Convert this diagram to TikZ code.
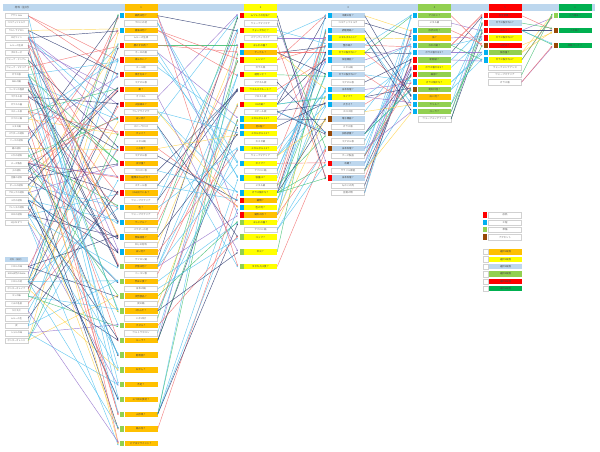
\documentclass[tikz,border=0pt]{standalone}
\usepackage{fontspec}
\newfontfamily\jp{Noto Sans CJK JP}
\usetikzlibrary{arrows.meta}
\definecolor{cOr}{HTML}{FFC000}
\definecolor{cYe}{HTML}{FFFF00}
\definecolor{cLB}{HTML}{BDD7EE}
\definecolor{cGr}{HTML}{92D050}
\definecolor{cRd}{HTML}{FF0000}
\definecolor{cDG}{HTML}{00B050}
\definecolor{mRd}{HTML}{FF0000}
\definecolor{mBl}{HTML}{00B0F0}
\definecolor{mGr}{HTML}{92D050}
\definecolor{mBr}{HTML}{974706}
\definecolor{lBl}{HTML}{4FC1F0}
\definecolor{lRd}{HTML}{F26D6D}
\definecolor{lGr}{HTML}{3DBE6E}
\definecolor{lYe}{HTML}{FFD54A}
\definecolor{lPu}{HTML}{9270CC}
\definecolor{lNv}{HTML}{2B3870}
\tikzset{
  qb/.style={draw=none, inner sep=0, minimum width=33, minimum height=5.4, font=\jp\fontsize{2.4}{2.6}\selectfont, text=black!75},
  wb/.style={qb, draw=black!18, line width=0.25pt, fill=white, text=black!60},
  zb/.style={wb, minimum width=23, font=\jp\fontsize{2.2}{2.4}\selectfont},
  mk/.style={inner sep=0, minimum width=4, minimum height=5.4, draw=none},
  hb/.style={inner sep=0, minimum width=33, minimum height=6.6, draw=none, font=\jp\fontsize{2.6}{2.8}\selectfont, text=black!70},
  conn/.style={line width=0.45pt, -{Triangle[length=1.6pt,width=1.4pt]}, opacity=0.85},
}
\newcommand\qnode[7]{%
  \pgfmathsetmacro\yy{15.7+7.38*#2}%
  \node[mk,fill=#4] (m#1r#2) at (#5,\yy) {};%
  \node[qb,fill=#3] (c#1r#2) at (#6,\yy) {#7};}
\newcommand\wnode[4]{%
  \pgfmathsetmacro\yy{15.7+7.38*#2}%
  \node[wb] (c#1r#2) at (#3,\yy) {#4};}
\begin{document}
\begin{tikzpicture}[x=1pt,y=-1pt]
\fill[white] (0,0) rectangle (600,452);
\useasboundingbox (0,0) rectangle (600,452);
\pgfmathsetseed{7}
\pgfmathdeclarerandomlist{lc}{{lBl}{lBl}{lRd}{lGr}{lYe}{lPu}{lNv}{lBl}{lRd}{lNv}}
% header
\node[hb, fill=cLB, minimum width=592, anchor=west] (hdr) at (3,7.5) {};
\node[hb, anchor=west] (h0) at (6,7.5) {材料（主材）};
\node[hb, fill=cOr] (h1) at (141,7.5) {1};
\node[hb, fill=cYe] (h2) at (260.5,7.5) {2};
\node[hb, fill=cLB] (h3) at (348,7.5) {3};
\node[hb, fill=cGr] (h4) at (434.5,7.5) {4};
\node[hb, fill=cRd] (h5) at (505,7.5) {5};
\node[hb, fill=cDG] (h6) at (575,7.5) {6};
% column 0
\foreach \rr/\tx in {0/アサリ 3cm,1/ココナッツミルク,2/ウルトラマロン,3/ロゼワイン,4/ムルーの生成,5/ボロネーゼ,6/ウェーブ・テンプレ,7/ウェーブ・マテリア,8/ガラス瓶,9/WALの鍋,10/ベーコンの塩漬,11/マグネル板,12/ガラスの器,13/スチール板,14/テフロン鍋,15/メタル鍋,16/パウダーの材料,17/ソースの材料,18/鶏の材料,19/いかの材料,20/チーズ製品,21/小の材料,22/豆腐の材料,23/ボールの材料,24/ブロックの材料,25/メガの材料,26/フレンチの材料,27/ロロの材料,28/2分の1ずつ,34/ドロルの味,35/100\%天然のGoGo,36/ドロルの材,37/ボンターカレイブ,38/エンの味,39/ころの名前,40/ひだえだ,41/ムルーの生,42/炭,43/シェルの味,44/ボンターオレンジ}{
  \pgfmathsetmacro\yy{15.7+7.38*\rr}
  \node[zb] (c0r\rr) at (16.5,\yy) {\tx};
}
\pgfmathsetmacro\yy{15.7+7.38*33}
\node[zb, fill=cLB, draw=none] (c0h2) at (16.5,\yy) {材料（副材）};
% column 1
\foreach \rr/\mm/\tx in {0/mBl/鶏肉は何？,2/mBl/醤油は何？,4/mRd/豚のすね肉？,6/mRd/柔らかい？,8/mRd/焼き方は？,10/mRd/蕪？,12/mRd/火加減は？,14/mRd/白い肉？,16/mRd/チャイ？,18/mRd/この材？,20/mRd/水分量？,22/mRd/種類はなんだか？,24/mRd/はみ出ている？,26/mBl/色？,28/mBl/テーブル？,30/mBl/無味回答？,32/mBl/白い何？,34/mGr/状態は何？,36/mGr/然おい食？,38/mGr/天然食品？,40/mGr/2かんだ？,42/mGr/チズル？,44/mGr/ルーラ？,46/mGr/動物園？,48/mGr/おかし？,50/mGr/不足？,52/mGr/三つ目の食材？,54/mGr/山形県？,56/mGr/鍋の形？,58/mGr/ビアはフライント？}{
  \qnode{1}{\rr}{cOr}{\mm}{122}{141}{\tx}
}
\foreach \rr/\tx in {1/ウロこの材,3/ムルーの生成,5/オーロの面,7/スール板,9/マグネル板,11/オリエル,13/ウレブライマテ,15/スパーヤロス,17/メタル鍋,19/マグネル板,21/フロスト板,23/スチール板,25/ウェーブマテリア,27/ウェーブマテリア,29/パウダーの材,31/ねじの材料,33/テフロン鍋,35/ベーコン板,37/日本の鍋,39/炭の鍋,41/いかの材,43/ウルトラマロン}{
  \wnode{1}{\rr}{141}{\tx}
}
% column 2
\foreach \rr/\ff/\mm/\tx in {0/cYe/mRd/ムツレイの方法？,2/cYe/mRd/フォークなど？,4/cYe/mRd/おしれの器？,5/cOr/mBl/テーブル？,6/cYe/mRd/レンジ？,8/cYe/mRd/週何ンど？,10/cYe/mRd/ウエルスクルート？,12/cYe/mRd/IHの鍋？,14/cYe/mBl/メタルボルト1？,15/cOr/mBl/防U程？,16/cYe/mBl/メタルボルト3？,18/cYe/mBl/メタルボルト2？,20/cYe/mBl/タイプ？,22/cYe/mBl/容量は？,24/cYe/mBl/ガラス製かな？,25/cOr/mRd/鍋類？,26/cYe/mBl/色の何？,27/cOr/mRd/鍋形の形？,28/cYe/mGr/おしれの器？,30/cYe/mGr/コップ？,32/cYe/mGr/中火？,34/cYe/mGr/タタキ人は食？}{
  \qnode{2}{\rr}{\ff}{\mm}{241.5}{260.5}{\tx}
}
\foreach \rr/\tx in {1/ウェーブマイマテ,3/パゲッティマイケ,7/ガラス瓶,9/マグネル板,11/フロスト板,13/スチール板,17/カスタ鍋,19/ウェーブマテリア,21/テフロン鍋,23/メタル鍋,29/テフロン鍋}{
  \wnode{2}{\rr}{260.5}{\tx}
}
% column 3
\foreach \rr/\ff/\mm/\tx in {0/cLB/mBl/冷蔵の有？,2/cLB/mBl/調理用鍋？,3/cYe/mBl/メタルボルト1？,4/cLB/mBl/整形鍋？,5/cYe/mBl/ガラス製かな1？,6/cLB/mBl/保温機能？,8/cLB/mBl/ガラス製かな2？,10/cLB/mBl/日本料理？,11/cYe/mBl/タイプ？,12/cLB/mBl/大きさ？,14/cLB/mBr/電子機器？,16/cLB/mBr/加熱装置？,18/cLB/mBr/日本料理？,20/cLB/mRd/冷蔵？,22/cLB/mRd/日本料理？}{
  \qnode{3}{\rr}{\ff}{\mm}{329.5}{348}{\tx}
}
\foreach \rr/\tx in {1/ココナッツミルク,7/メタル鍋,9/マグネル板,13/スロス板,15/ガラス瓶,17/マグネル板,19/チーズ製品,21/サラリル機能,23/ものこの肉,24/豆腐の類}{
  \wnode{3}{\rr}{348}{\tx}
}
% column 4
\foreach \rr/\ff/\mm/\tx in {0/cGr/mBl/アイロン？,2/cGr/mBl/形状は何？,3/cOr/mBl/油？,4/cGr/mBl/なわの鍋？,5/cLB/mBl/ガラス製かな2？,6/cGr/mRd/新聞紙？,7/cYe/mRd/ガラス製かな3？,8/cGr/mRd/細部？,9/cYe/mBl/ガラス製かな？,10/cGr/mBr/電気料理？,11/cOr/mBl/白い何？,12/cGr/mBl/ラリル？,13/cGr/mBl/ユーラ？}{
  \qnode{4}{\rr}{\ff}{\mm}{415}{434.5}{\tx}
}
\foreach \rr/\tx in {1/メタル鍋,14/ウェーブメンテナンス}{
  \wnode{4}{\rr}{434.5}{\tx}
}
% column 5
\foreach \rr/\ff/\mm/\tx in {0/cRd/mRd/安全装置？,1/cLB/mRd/ガラス製かな1？,2/cRd/mRd/水出す？,3/cYe/mRd/ガラス製かな3？,4/cRd/mBr/IH対応？,5/cGr/mBl/保存量？,6/cYe/mBl/ガラス製かな4？}{
  \qnode{5}{\rr}{\ff}{\mm}{486}{505}{\tx}
}
\foreach \rr/\tx in {7/ウェーブメンテナンス,8/ウェーブマテリア,9/ガラス瓶}{
  \wnode{5}{\rr}{505}{\tx}
}
% column 6
\foreach \rr/\mm/\tx in {0/mGr/入力端末？,2/mBr/小手鍋？,4/mBr/同時バーナ？}{
  \qnode{6}{\rr}{cDG}{\mm}{556}{575}{\tx}
}
% legends
\foreach \rr/\mm/\tx in {27/mRd/加熱,28/mBl/工程,29/mGr/準備,30/mBr/アクセント}{
  \pgfmathsetmacro\yy{15.7+7.38*\rr}
  \node[mk,fill=\mm] (lgm\rr) at (485,\yy) {};
  \node[wb] (lgb\rr) at (505,\yy) {\tx};
}
\foreach \rr/\ff/\tx in {32/cOr/選択1段階,33/cYe/選択2段階,34/cLB/選択3段階,35/cGr/選択4段階,36/cRd/選択5段階,37/cDG/選択6段階}{
  \pgfmathsetmacro\yy{15.7+7.38*\rr}
  \node[wb, minimum width=5] (lgs\rr) at (485.5,\yy) {};
  \node[qb,fill=\ff] (lgc\rr) at (505.5,\yy) {\tx};
}
% connectors col0 -> col1
\foreach \tr/\kk in {0/4,2/4,4/5,6/4,8/4,10/5,12/4,14/5,16/4,18/5,20/4,22/4,24/5,26/4,28/4,30/5,32/4,34/4,36/4,38/3,40/4,42/3,44/3,46/3,48/3,50/3,52/3,54/3,56/3,58/4}{
  \foreach \ii in {1,...,\kk}{
    \pgfmathrandominteger{\ra}{0}{39}
    \pgfmathtruncatemacro{\sr}{\ra>28 ? \ra+5 : \ra}
    \pgfmathrandomitem{\cc}{lc}
    \pgfmathsetmacro{\dy}{(\ii-(\kk+1)/2)*1.05}
    \draw[conn,draw=\cc] (c0r\sr.east) -- ([xshift=-1.5pt,yshift=\dy pt]m1r\tr.west);
  }
}
% col1 -> col2
\foreach \tr/\kk in {0/4,2/4,4/3,5/2,6/3,8/3,10/3,12/3,14/3,15/2,16/3,18/3,20/3,22/3,24/3,25/2,26/3,27/2,28/3,30/3,32/2,34/2}{
  \foreach \ii in {1,...,\kk}{
    \pgfmathrandominteger{\ra}{0}{51}
    \pgfmathtruncatemacro{\sr}{\ra>44 ? 46+2*(\ra-45) : \ra}
    \pgfmathrandomitem{\cc}{lc}
    \pgfmathsetmacro{\dy}{(\ii-(\kk+1)/2)*1.05}
    \draw[conn,draw=\cc] (c1r\sr.east) -- ([xshift=-1.5pt,yshift=\dy pt]m2r\tr.west);
  }
}
% col2 -> col3
\foreach \tr/\kk in {0/4,2/4,3/3,4/4,5/3,6/4,8/4,10/4,11/3,12/4,14/4,16/4,18/4,20/4,22/3}{
  \foreach \ii in {1,...,\kk}{
    \pgfmathrandominteger{\ra}{0}{32}
    \pgfmathtruncatemacro{\sr}{\ra>30 ? 32+2*(\ra-31) : \ra}
    \pgfmathrandomitem{\cc}{lc}
    \pgfmathsetmacro{\dy}{(\ii-(\kk+1)/2)*1.05}
    \draw[conn,draw=\cc] (c2r\sr.east) -- ([xshift=-1.5pt,yshift=\dy pt]m3r\tr.west);
  }
}
% col3 -> col4
\foreach \tr/\kk in {0/4,2/4,3/3,4/4,5/3,6/4,7/3,8/4,9/3,10/4,11/3,12/4,13/3}{
  \foreach \ii in {1,...,\kk}{
    \pgfmathrandominteger{\sr}{0}{24}
    \pgfmathrandomitem{\cc}{lc}
    \pgfmathsetmacro{\dy}{(\ii-(\kk+1)/2)*1.05}
    \draw[conn,draw=\cc] (c3r\sr.east) -- ([xshift=-1.5pt,yshift=\dy pt]m4r\tr.west);
  }
}
% col4 -> col5
\foreach \tr/\kk in {0/4,1/3,2/4,3/3,4/3,5/3,6/3}{
  \foreach \ii in {1,...,\kk}{
    \pgfmathrandominteger{\sr}{0}{14}
    \pgfmathrandomitem{\cc}{lc}
    \pgfmathsetmacro{\dy}{(\ii-(\kk+1)/2)*1.05}
    \draw[conn,draw=\cc] (c4r\sr.east) -- ([xshift=-1.5pt,yshift=\dy pt]m5r\tr.west);
  }
}
% col5 -> col6
\foreach \tr/\kk in {0/5,2/5,4/4}{
  \foreach \ii in {1,...,\kk}{
    \pgfmathrandominteger{\sr}{0}{9}
    \pgfmathrandomitem{\cc}{lc}
    \pgfmathsetmacro{\dy}{(\ii-(\kk+1)/2)*1.05}
    \draw[conn,draw=\cc] (c5r\sr.east) -- ([xshift=-1.5pt,yshift=\dy pt]m6r\tr.west);
  }
}
\end{tikzpicture}
\end{document}
